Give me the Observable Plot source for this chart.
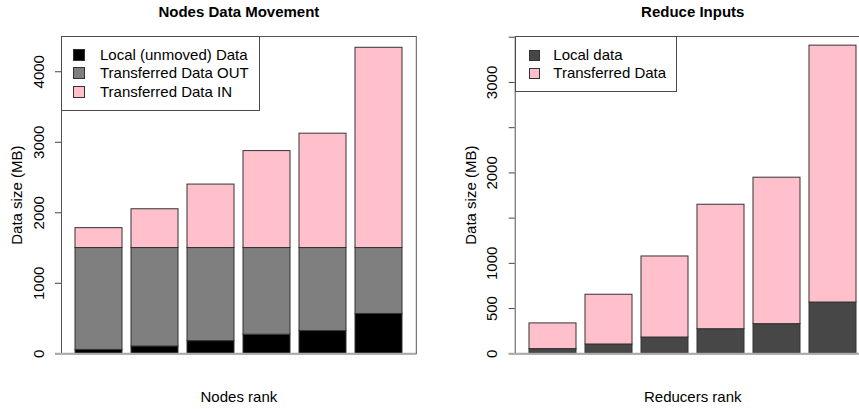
<!DOCTYPE html>
<html><head><meta charset="utf-8">
<script src="https://cdn.jsdelivr.net/npm/d3@7"></script>
<script src="https://cdn.jsdelivr.net/npm/@observablehq/plot@0.6"></script>
<style>
html,body{margin:0;padding:0;background:#fff;overflow:hidden}
body{width:859px;height:409px;position:relative;font-family:"Liberation Sans",Arial,sans-serif}
.panel{position:absolute;top:0;height:409px;overflow:hidden}
.legend{position:absolute;background:#fff;border:1px solid #4a4a4a;box-sizing:border-box}
.sw{position:absolute;box-sizing:border-box;border:1px solid #333}
.lt{position:absolute;font-size:15px;line-height:18px;white-space:nowrap;color:#000}
</style></head><body>
<div id="left" class="panel" style="left:0;width:430px"></div>
<div id="right" class="panel" style="left:430px;width:429px"></div>
<div id="legL" class="legend" style="left:61px;top:36px;width:199px;height:75px"></div>
<div id="legR" class="legend" style="left:515px;top:36px;width:162px;height:56px"></div>
<script>
const ranks = ["1","2","3","4","5","6"];
const localData = [55, 104, 180, 271, 322, 565];
const transferredOut = [1445, 1396, 1320, 1229, 1178, 935];
const transferredIn = [282, 550, 900, 1375, 1622, 2840];
const reduceLocal = [52, 103, 180, 272, 328, 567];
const reduceTransferred = [284, 550, 896, 1376, 1619, 2840];
const leftSeries = ["Local (unmoved) Data", "Transferred Data OUT", "Transferred Data IN"];
const leftColors = ["#000000", "#7f7f7f", "#ffc0cb"];
const rightSeries = ["Local data", "Transferred Data"];
const rightColors = ["#474747", "#ffc0cb"];
const leftTicks = [0, 1000, 2000, 3000, 4000];
const leftTickLabels = [0, 1000, 2000, 3000, 4000];
const rightTicks = [0, 500, 1000, 1500, 2000, 2500, 3000, 3500];
const rightTickLabels = [0, 500, 1000, 2000, 3000];

const leftRows = ranks.flatMap((r, i) => [
  {rank: r, series: leftSeries[0], value: localData[i]},
  {rank: r, series: leftSeries[1], value: transferredOut[i]},
  {rank: r, series: leftSeries[2], value: transferredIn[i]}
]);
const rightRows = ranks.flatMap((r, i) => [
  {rank: r, series: rightSeries[0], value: reduceLocal[i]},
  {rank: r, series: rightSeries[1], value: reduceTransferred[i]}
]);

function panel(o) {
  return Plot.plot({
    width: o.width, height: 409,
    marginLeft: o.marginLeft, marginRight: o.marginRight, marginTop: 36, marginBottom: 55.7,
    style: {fontFamily: "Liberation Sans, Arial, sans-serif", fontSize: "15px", color: "#000", background: "#fff", maxWidth: "none", overflow: "visible"},
    x: {type: "band", domain: ranks, paddingInner: 1/6, paddingOuter: 0.2333, align: 0.5, axis: null},
    y: {domain: o.yDomain, axis: null},
    color: {domain: o.series, range: o.colors},
    marks: [
      Plot.barY(o.rows, {x: "rank", y: "value", fill: "series", stroke: "#333", strokeWidth: 1}),
      Plot.frame({stroke: "#555"}),
      Plot.axisY({ticks: o.ticks, tickFormat: d => o.tickLabels.includes(d) ? String(d) : "", label: null, tickSize: 6, tickRotate: -90, tickPadding: 12, stroke: "#444", fontSize: 15}),
      Plot.ruleY([0], {stroke: "#aaa", strokeWidth: 2, insetLeft: -6}),
      Plot.text([o.title], {text: d => d, frameAnchor: "top", dy: -24, lineAnchor: "middle", textAnchor: "middle", fontWeight: "bold", fontSize: 15}),
      Plot.text([o.xLabel], {text: d => d, frameAnchor: "bottom", dy: 43, lineAnchor: "middle", textAnchor: "middle", fontSize: 15}),
      Plot.text(["Data size (MB)"], {text: d => d, frameAnchor: "left", dx: -44, rotate: -90, lineAnchor: "middle", textAnchor: "middle", fontSize: 15})
    ]
  });
}

document.getElementById("left").append(panel({
  rows: leftRows, series: leftSeries, colors: leftColors, yDomain: [0, 4500],
  ticks: leftTicks, tickLabels: leftTickLabels, width: 430, marginLeft: 61, marginRight: 14.2,
  title: "Nodes Data Movement", xLabel: "Nodes rank"
}));
document.getElementById("right").append(panel({
  rows: rightRows, series: rightSeries, colors: rightColors, yDomain: [0, 3508],
  ticks: rightTicks, tickLabels: rightTickLabels, width: 440, marginLeft: 84.7, marginRight: 0.2,
  title: "Reduce Inputs", xLabel: "Reducers rank"
}));

function legend(id, series, colors, sw, swLeft, textLeft) {
  const el = document.getElementById(id);
  series.forEach((s, i) => {
    const c = 55 + i * 18.3 - 37;
    const b = document.createElement("div");
    b.className = "sw";
    b.style.cssText = `left:${swLeft}px;top:${c - sw / 2}px;width:${sw}px;height:${sw}px;background:${colors[i]}`;
    el.append(b);
    const t = document.createElement("div");
    t.className = "lt";
    t.style.cssText = `left:${textLeft}px;top:${c - 9}px`;
    t.textContent = s;
    el.append(t);
  });
}
legend("legL", leftSeries, leftColors, 12, 11, 38);
legend("legR", rightSeries, rightColors, 11, 13.3, 37.3);
</script>
</body></html>
